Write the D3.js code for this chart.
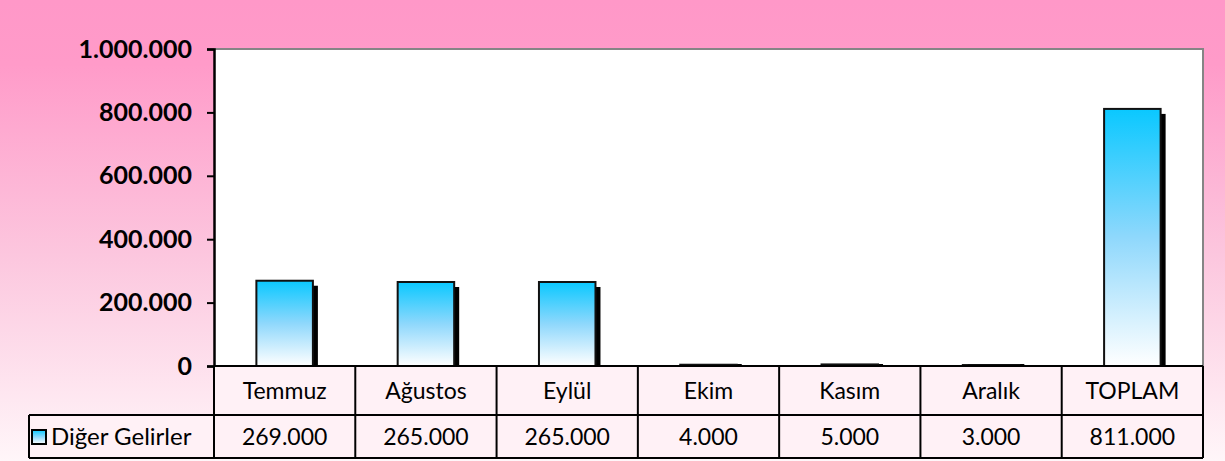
<!DOCTYPE html>
<html>
<head>
<meta charset="utf-8">
<script src="https://cdn.jsdelivr.net/npm/d3@7"></script>
<style>
  body { margin: 0; }
  svg { display: block; font-family: Lato, "Open Sans", sans-serif; }
</style>
</head>
<body>
<svg width="1225" height="461"></svg>
<script>
var categories = ["Temmuz", "Ağustos", "Eylül", "Ekim", "Kasım", "Aralık", "TOPLAM"];
var values = [269000, 265000, 265000, 4000, 5000, 3000, 811000];
var seriesName = "Diğer Gelirler";
var yTicks = [0, 200000, 400000, 600000, 800000, 1000000];

var svg = d3.select("svg"),
    width = +svg.attr("width"),
    height = +svg.attr("height");

// plot box and table rows (window.top is reserved, so use plot* names)
var plotLeft = 214, plotRight = 1203, plotTop = 49, plotBottom = 366;
var row1 = 415, row2 = 458, legendLeft = 29;

var fmt = function(v) { return d3.format(",")(v).replace(/,/g, "."); };

var defs = svg.append("defs");

var bg = defs.append("linearGradient")
    .attr("id", "bg").attr("x1", 0).attr("y1", 0).attr("x2", 0).attr("y2", 1);
bg.append("stop").attr("offset", 0).attr("stop-color", "#ff98c8");
bg.append("stop").attr("offset", 0.14).attr("stop-color", "#ff9bc9");
bg.append("stop").attr("offset", 0.55).attr("stop-color", "#fcc6de");
bg.append("stop").attr("offset", 1).attr("stop-color", "#fff6f9");

var barGrad = defs.append("linearGradient")
    .attr("id", "barGrad").attr("x1", 0).attr("y1", 0).attr("x2", 0).attr("y2", 1);
barGrad.append("stop").attr("offset", 0).attr("stop-color", "#0ac8ff");
barGrad.append("stop").attr("offset", 0.5).attr("stop-color", "#8fd8fc");
barGrad.append("stop").attr("offset", 1).attr("stop-color", "#ffffff");

svg.append("rect")
    .attr("width", width).attr("height", height)
    .attr("fill", "url(#bg)");

var x = d3.scaleBand()
    .domain(categories)
    .range([plotLeft, plotRight])
    .padding(0);

var y = d3.scaleLinear()
    .domain([0, 1000000])
    .range([plotBottom, plotTop]);

// plot area
svg.append("rect")
    .attr("x", plotLeft).attr("y", plotTop)
    .attr("width", plotRight - plotLeft).attr("height", plotBottom - plotTop)
    .attr("fill", "#fff");
svg.append("path")
    .attr("d", "M" + plotLeft + "," + plotTop + "H" + plotRight + "V" + plotBottom)
    .attr("fill", "none")
    .attr("stroke", "#858585")
    .attr("stroke-width", 2);

// bars with drop shadow
var bw = x.bandwidth() * 0.4;
var off = 5;
var bars = svg.append("g").attr("class", "bars")
  .selectAll("g")
  .data(categories)
  .enter().append("g");

bars.append("rect")
    .attr("x", function(d) { return x(d) + x.bandwidth() / 2 - bw / 2 + off; })
    .attr("y", function(d, i) { return Math.min(y(values[i]) + off, plotBottom - 2); })
    .attr("width", bw)
    .attr("height", function(d, i) { return Math.max(plotBottom - y(values[i]) - off, 2); })
    .attr("fill", "#000");

bars.append("rect")
    .attr("x", function(d) { return x(d) + x.bandwidth() / 2 - bw / 2; })
    .attr("y", function(d, i) { return y(values[i]); })
    .attr("width", bw)
    .attr("height", function(d, i) { return plotBottom - y(values[i]); })
    .attr("fill", "url(#barGrad)")
    .attr("stroke", "#111")
    .attr("stroke-width", 2);

// y axis
var yAxis = svg.append("g")
    .attr("transform", "translate(" + plotLeft + ",0)")
    .call(d3.axisLeft(y).tickValues(yTicks).tickFormat(fmt).tickSize(7).tickPadding(15));
yAxis.select(".domain").attr("stroke", "#000").attr("stroke-width", 2.5);
yAxis.selectAll(".tick line").attr("stroke", "#000").attr("stroke-width", 2);
yAxis.selectAll(".tick text")
    .attr("fill", "#000")
    .style("font-family", "Lato, 'Open Sans', sans-serif")
    .style("font-weight", "bold")
    .style("font-size", "25px");

// data table
var table = svg.append("g").attr("class", "table");

table.append("rect")
    .attr("x", plotLeft).attr("y", plotBottom)
    .attr("width", plotRight - plotLeft).attr("height", row1 - plotBottom)
    .attr("fill", "#fff1f6");
table.append("rect")
    .attr("x", legendLeft).attr("y", row1)
    .attr("width", plotRight - legendLeft).attr("height", row2 - row1)
    .attr("fill", "#fff1f6");

var lines = [
  [plotLeft, plotBottom, plotRight, plotBottom],
  [legendLeft, row1, plotRight, row1],
  [legendLeft, row2, plotRight, row2],
  [legendLeft, row1, legendLeft, row2]
];
categories.forEach(function(c) {
  lines.push([x(c) + x.bandwidth(), plotBottom, x(c) + x.bandwidth(), row2]);
});
lines.push([plotLeft, plotBottom, plotLeft, row2]);

table.selectAll("line")
  .data(lines)
  .enter().append("line")
    .attr("x1", function(d) { return d[0]; })
    .attr("y1", function(d) { return d[1]; })
    .attr("x2", function(d) { return d[2]; })
    .attr("y2", function(d) { return d[3]; })
    .attr("stroke", "#000")
    .attr("stroke-width", 2);

table.selectAll(".cat")
  .data(categories)
  .enter().append("text")
    .attr("class", "cat")
    .attr("x", function(d) { return x(d) + x.bandwidth() / 2; })
    .attr("y", (plotBottom + row1) / 2 + 8)
    .attr("text-anchor", "middle")
    .style("font-size", "23px")
    .text(function(d) { return d; });

table.selectAll(".val")
  .data(values)
  .enter().append("text")
    .attr("class", "val")
    .attr("x", function(d, i) { return x(categories[i]) + x.bandwidth() / 2; })
    .attr("y", (row1 + row2) / 2 + 8)
    .attr("text-anchor", "middle")
    .style("font-size", "23px")
    .text(function(d) { return fmt(d); });

// legend key
table.append("rect")
    .attr("x", 32).attr("y", 430)
    .attr("width", 14).attr("height", 14)
    .attr("fill", "url(#barGrad)")
    .attr("stroke", "#000")
    .attr("stroke-width", 2);
table.append("text")
    .attr("x", 51).attr("y", (row1 + row2) / 2 + 8)
    .style("font-size", "24px")
    .text(seriesName);
</script>
</body>
</html>
